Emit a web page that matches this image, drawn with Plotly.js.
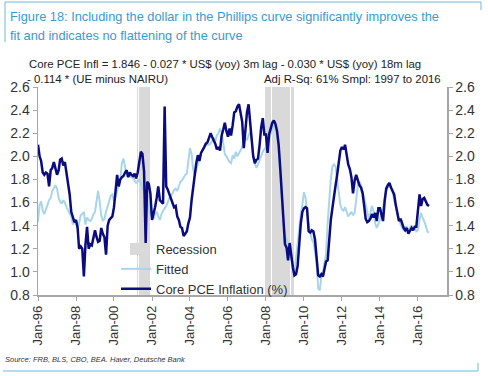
<!DOCTYPE html>
<html>
<head>
<meta charset="utf-8">
<script src="https://cdn.plot.ly/plotly-3.0.1.min.js"></script>
<style>
html,body{margin:0;padding:0;background:#fff;}
#chart{width:488px;height:376px;}
</style>
</head>
<body>
<div id="chart"></div>
<script>
// ---- data (monthly, Jan-1996 .. Aug-2016) ----
var startYear = 1996;
var corePCE = [
  2.10,2.00,1.96,1.86,1.84,1.86,1.85,1.74,1.88,1.90,1.95,1.90, // 1996
  1.84,1.88,1.97,1.98,1.92,1.95,1.86,1.78,1.67,1.52,1.46,1.43, // 1997
  1.45,1.38,1.20,1.22,1.20,0.96,1.23,1.39,1.20,1.24,1.23,1.30, // 1998
  1.36,1.30,1.26,1.27,1.38,1.33,1.30,1.15,1.40,1.45,1.47,1.48, // 1999
  1.56,1.69,1.84,1.74,1.80,1.82,1.83,1.86,1.88,1.82,1.86,1.84, // 2000
  1.83,1.85,1.81,1.86,1.94,2.04,2.02,1.87,1.25,1.78,1.76,1.68, // 2001
  1.45,1.50,1.56,1.64,1.74,1.62,1.60,1.59,2.43,1.74,1.71,1.67, // 2002
  1.62,1.58,1.56,1.57,1.48,1.45,1.39,1.38,1.31,1.33,1.35,1.42, // 2003
  1.47,1.62,1.74,1.87,1.94,2.01,1.96,2.03,2.05,2.08,2.11,2.12, // 2004
  2.16,2.20,2.17,2.14,2.11,2.06,2.08,2.05,2.18,2.23,2.29,2.22, // 2005
  2.17,2.24,2.18,2.27,2.38,2.39,2.43,2.45,2.36,2.30,2.07,2.25, // 2006
  2.38,2.45,2.28,2.15,2.00,1.94,1.97,1.98,2.10,2.25,2.33,2.19, // 2007
  2.19,2.03,2.19,2.25,2.29,2.31,2.28,2.22,2.10,1.90,1.70,1.52, // 2008
  1.24,1.21,1.10,1.25,1.14,1.04,0.97,0.98,1.05,1.28,1.42,1.52, // 2009
  1.55,1.56,1.55,1.35,1.34,1.36,1.35,1.28,1.10,0.97,0.96,0.98, // 2010
  0.96,1.05,1.09,1.10,1.30,1.45,1.55,1.67,1.75,1.84,1.95,2.05, // 2011
  2.08,2.06,2.10,2.01,1.93,1.89,1.82,1.68,1.79,1.84,1.79,1.75, // 2012
  1.73,1.68,1.58,1.46,1.43,1.44,1.46,1.50,1.47,1.51,1.44,1.55, // 2013
  1.55,1.49,1.44,1.61,1.72,1.75,1.77,1.73,1.70,1.67,1.58,1.50, // 2014
  1.44,1.46,1.41,1.38,1.36,1.38,1.33,1.35,1.38,1.36,1.39,1.39, // 2015
  1.52,1.67,1.57,1.63,1.64,1.60,1.58,1.57                      // 2016
];
var fitted = [
  1.43,1.58,1.61,1.53,1.50,1.55,1.58,1.62,1.64,1.70,1.72,1.75, // 1996
  1.72,1.64,1.61,1.59,1.62,1.60,1.56,1.53,1.50,1.48,1.41,1.44, // 1997
  1.42,1.38,1.42,1.49,1.50,1.52,1.41,1.47,1.45,1.44,1.46,1.50, // 1998
  1.52,1.60,1.70,1.61,1.49,1.44,1.46,1.52,1.57,1.63,1.66,1.67, // 1999
  1.61,1.65,1.70,1.75,1.80,1.94,1.98,1.91,1.83,1.84,1.83,1.82, // 2000
  1.81,1.79,1.77,1.78,1.80,1.78,1.72,1.70,1.65,1.60,1.55,1.50, // 2001
  1.48,1.46,1.50,1.52,1.48,1.45,1.50,1.53,1.55,1.57,1.61,1.64, // 2002
  1.66,1.68,1.71,1.72,1.70,1.74,1.78,1.79,1.82,1.84,1.85,1.95, // 2003
  2.07,2.02,1.89,1.84,1.88,1.93,1.98,2.03,2.06,2.08,2.10,2.10, // 2004
  2.10,2.11,2.13,2.16,2.13,2.18,2.20,2.24,2.21,2.10,2.02,2.00, // 2005
  1.97,1.95,1.94,2.01,1.98,2.04,2.00,2.03,2.06,2.08,2.18,2.16, // 2006
  2.14,2.18,2.21,2.15,2.01,1.94,1.90,1.93,1.97,2.00,2.04,2.06, // 2007
  2.08,2.12,2.15,2.20,2.24,2.26,2.24,2.18,2.05,1.85,1.62,1.42, // 2008
  1.32,1.28,1.25,1.18,1.12,1.05,1.00,1.12,1.26,1.40,1.50,1.58, // 2009
  1.69,1.64,1.50,1.40,1.35,1.28,1.26,1.18,1.08,0.86,0.84,0.96, // 2010
  1.00,1.08,1.15,1.42,1.62,1.80,1.91,1.93,1.91,1.80,1.68,1.58, // 2011
  1.54,1.53,1.56,1.51,1.48,1.50,1.52,1.49,1.51,1.62,1.75,1.78, // 2012
  1.75,1.70,1.64,1.58,1.50,1.46,1.51,1.57,1.52,1.42,1.38,1.42, // 2013
  1.45,1.52,1.55,1.64,1.70,1.73,1.74,1.73,1.69,1.62,1.56,1.50, // 2014
  1.45,1.41,1.38,1.36,1.39,1.39,1.36,1.38,1.40,1.37,1.39,1.35, // 2015
  1.36,1.45,1.51,1.47,1.44,1.40,1.35,1.34                      // 2016
];
var recessionPeriods = [['2001-04','2001-11'],['2008-01','2009-06']];
var recessionTop = 2.6;

var seriesNames = ['Recession','Fitted','Core PCE Inflation (%)'];
var titleLines = ['Figure 18: Including the dollar in the Phillips curve significantly improves the',
                  'fit and indicates no flattening of the curve'];
var subtitleLines = ['Core PCE Infl = 1.846 - 0.027 * US$ (yoy) 3m lag - 0.030 * US$ (yoy) 18m lag',
                     '- 0.114 * (UE minus NAIRU)',
                     'Adj R-Sq: 61% Smpl: 1997 to 2016'];
var sourceText = 'Source: FRB, BLS, CBO, BEA. Haver, Deutsche Bank';

// ---- build ----
function monthStr(i){
  var y = startYear + Math.floor(i/12), m = (i%12)+1;
  return y + '-' + (m<10?'0':'') + m + '-01';
}
var dates = corePCE.map(function(_,i){return monthStr(i);});

var recX = [], recY = [];
recessionPeriods.forEach(function(p){
  var a = p[0].split('-'), b = p[1].split('-');
  var i0 = (+a[0]-startYear)*12 + (+a[1]-1), i1 = (+b[0]-startYear)*12 + (+b[1]-1);
  for (var i=i0;i<=i1;i++){ recX.push(monthStr(i)); recY.push(recessionTop); }
});

var L=38, R=447, T=87, B=295;
function px(x){return (x-L)/(R-L);}
function py(y){return (B-y)/(B-T);}

var font = 'Liberation Sans, Arial, sans-serif';
var titleColor = '#3a9ad4';
var frameColor = '#6fb6de';

var traces = [
  {type:'bar', x:recX, y:recY, name:seriesNames[0], marker:{color:'#d9d9d9', line:{width:0}}, hoverinfo:'skip'},
  {type:'scatter', mode:'lines', x:dates, y:fitted, yaxis:'y2', name:seriesNames[1], line:{color:'#a8d6e8', width:2}},
  {type:'scatter', mode:'lines', x:dates, y:corePCE, yaxis:'y2', name:seriesNames[2], line:{color:'#0b0b80', width:2.5}}
];

var axisCommon = {
  showgrid:false, zeroline:false, showline:true, linecolor:'#a6a6a6', linewidth:1.5,
  ticks:'outside', ticklen:4, tickcolor:'#a6a6a6', tickwidth:1,
  tickfont:{family:font, size:14, color:'#333'}
};

var layout = {
  width:488, height:376,
  margin:{l:L, r:488-R, t:T, b:376-B, pad:0},
  paper_bgcolor:'#fff', plot_bgcolor:'#fff',
  bargap:0,
  showlegend:true,
  legend:{x:px(116), y:py(234), xanchor:'left', yanchor:'top', bgcolor:'rgba(0,0,0,0)',
          font:{family:font, size:13, color:'#333'}, itemwidth:30, tracegroupgap:0, traceorder:'normal'},
  xaxis:Object.assign({}, axisCommon, {
    type:'date', range:['1996-01-01','2017-07-13'], dtick:'M24', tick0:'1996-01-01',
    tickformat:'%b-%y', tickangle:-90, tickfont:{family:font, size:13, color:'#333'}
  }),
  yaxis:Object.assign({}, axisCommon, {range:[0.8,2.6], dtick:0.2, tickformat:'.1f'}),
  yaxis2:Object.assign({}, axisCommon, {range:[0.8,2.6], dtick:0.2, tickformat:'.1f', overlaying:'y', side:'right'}),
  annotations:[
    {text:titleLines[0], x:px(8), y:py(16), xref:'paper', yref:'paper', xanchor:'left', yanchor:'middle', showarrow:false, font:{family:font,size:12.8,color:titleColor}},
    {text:titleLines[1], x:px(8), y:py(35), xref:'paper', yref:'paper', xanchor:'left', yanchor:'middle', showarrow:false, font:{family:font,size:12.8,color:titleColor}},
    {text:subtitleLines[0], x:px(27), y:py(64), xref:'paper', yref:'paper', xanchor:'left', yanchor:'middle', showarrow:false, font:{family:font,size:11.4,color:'#222'}},
    {text:subtitleLines[1], x:px(25), y:py(79), xref:'paper', yref:'paper', xanchor:'left', yanchor:'middle', showarrow:false, font:{family:font,size:11.4,color:'#222'}},
    {text:subtitleLines[2], x:px(443), y:py(79), xref:'paper', yref:'paper', xanchor:'right', yanchor:'middle', showarrow:false, font:{family:font,size:11.4,color:'#222'}},
    {text:'<i>'+sourceText+'</i>', x:px(3), y:py(359), xref:'paper', yref:'paper', xanchor:'left', yanchor:'middle', showarrow:false, font:{family:font,size:7.5,color:'#333'}}
  ],
  shapes:[
    {type:'line', xref:'paper', yref:'paper', x0:px(5), x1:px(481), y0:py(2), y1:py(2), line:{color:frameColor, width:1}},
    {type:'line', xref:'paper', yref:'paper', x0:px(5), x1:px(5), y0:py(2), y1:py(42), line:{color:frameColor, width:1}},
    {type:'line', xref:'paper', yref:'paper', x0:px(481), x1:px(481), y0:py(2), y1:py(10), line:{color:frameColor, width:1}},
    {type:'line', xref:'paper', yref:'paper', x0:px(3), x1:px(478), y0:py(371), y1:py(371), line:{color:frameColor, width:1}},
    {type:'line', xref:'paper', yref:'paper', x0:px(478), x1:px(478), y0:py(363), y1:py(371), line:{color:frameColor, width:1}}
  ]
};

Plotly.newPlot('chart', traces, layout, {staticPlot:true, displayModeBar:false});
</script>
</body>
</html>
